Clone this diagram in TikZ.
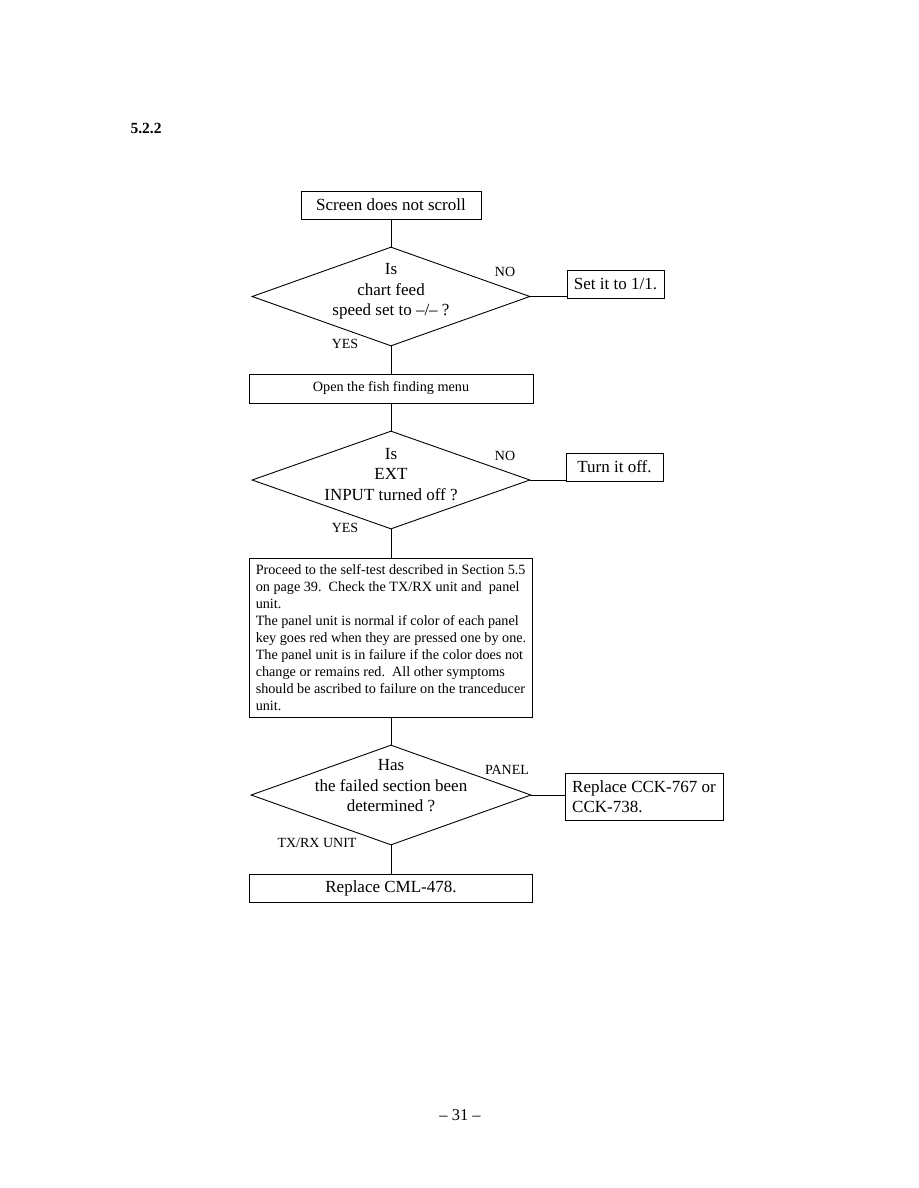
\documentclass[tikz,border=0pt]{standalone}
\usepackage{fontspec}
\setmainfont{Liberation Serif}
\usetikzlibrary{shapes.geometric}
\begin{document}
\begin{tikzpicture}[x=1pt,y=-1pt,
  box/.style={draw, line width=0.9pt, inner sep=0pt, font=\fontsize{17}{20}\selectfont},
  smallbox/.style={box, font=\fontsize{14.2}{16.9}\selectfont},
  dia/.style={draw, line width=0.9pt, diamond, inner sep=0pt, minimum width=278pt, minimum height=99pt},
  dtext/.style={align=center, inner sep=0pt, font=\fontsize{17}{20.5}\selectfont},
  lbl/.style={font=\fontsize{14}{16}\selectfont, inner sep=0pt},
  conn/.style={line width=0.9pt}]
\useasboundingbox (0,0) rectangle (918,1188);

\node[font=\bfseries\fontsize{15.5}{18}\selectfont] (hdr) at (146,128) {5.2.2};

\node[box, minimum width=180pt, minimum height=28pt] (b0) at (391,205) {Screen does not scroll};

\node[dia] (d1) at (391,296.5) {};
\node[dtext] (t1) at (391,291.5) {Is\\chart feed\\speed set to –/– ?};
\node[lbl] (no1) at (505,272) {NO};
\node[lbl] (yes1) at (345,344) {YES};
\node[box, minimum width=97pt, minimum height=28pt] (s1) at (615.5,284) {Set it to 1/1.};

\node[smallbox, minimum width=284pt, minimum height=29pt] (b1) at (391,388.5) {Open the fish finding menu};

\node[dia, minimum height=98pt] (d2) at (391,480) {};
\node[dtext] (t2) at (391,474.5) {Is\\EXT\\INPUT turned off ?};
\node[lbl] (no2) at (505,456) {NO};
\node[lbl] (yes2) at (345,528) {YES};
\node[box, minimum width=97pt, minimum height=28pt] (s2) at (614.5,467) {Turn it off.};

\node[smallbox, minimum width=283pt, minimum height=159pt, align=left] (b3) at (391,637.5) {Proceed to the self-test described in Section 5.5\\
on page 39.\ \ Check the TX/RX unit and \ panel\\
unit.\\
The panel unit is normal if color of each panel\\
key goes red when they are pressed one by one.\\
The panel unit is in failure if the color does not\\
change or remains red.\ \ All other symptoms\\
should be ascribed to failure on the tranceducer\\
unit.};

\node[dia, minimum width=280pt, minimum height=100pt] (d3) at (391,795) {};
\node[dtext] (t3) at (391,786) {Has\\the failed section been\\determined ?};
\node[lbl] (pan) at (507,770) {PANEL};
\node[lbl] (txrx) at (317,843) {TX/RX UNIT};
\node[box, minimum width=158pt, minimum height=47pt, align=left] (s3) at (644,796.5) {Replace CCK-767 or\\CCK-738.};

\node[box, minimum width=283pt, minimum height=28pt] (b4) at (391,888) {Replace CML-478.};

\node[font=\fontsize{16.5}{19}\selectfont] (pg) at (460,1115) {– 31 –};

\draw[conn] (b0.south) -- (d1.north);
\draw[conn] (d1.south) -- (b1.north);
\draw[conn] (b1.south) -- (d2.north);
\draw[conn] (d2.south) -- (b3.north);
\draw[conn] (b3.south) -- (d3.north);
\draw[conn] (d3.south) -- (b4.north);
\draw[conn] (d1.east) -- (d1.east -| s1.west);
\draw[conn] (d2.east) -- (d2.east -| s2.west);
\draw[conn] (d3.east) -- (d3.east -| s3.west);
\end{tikzpicture}
\end{document}
